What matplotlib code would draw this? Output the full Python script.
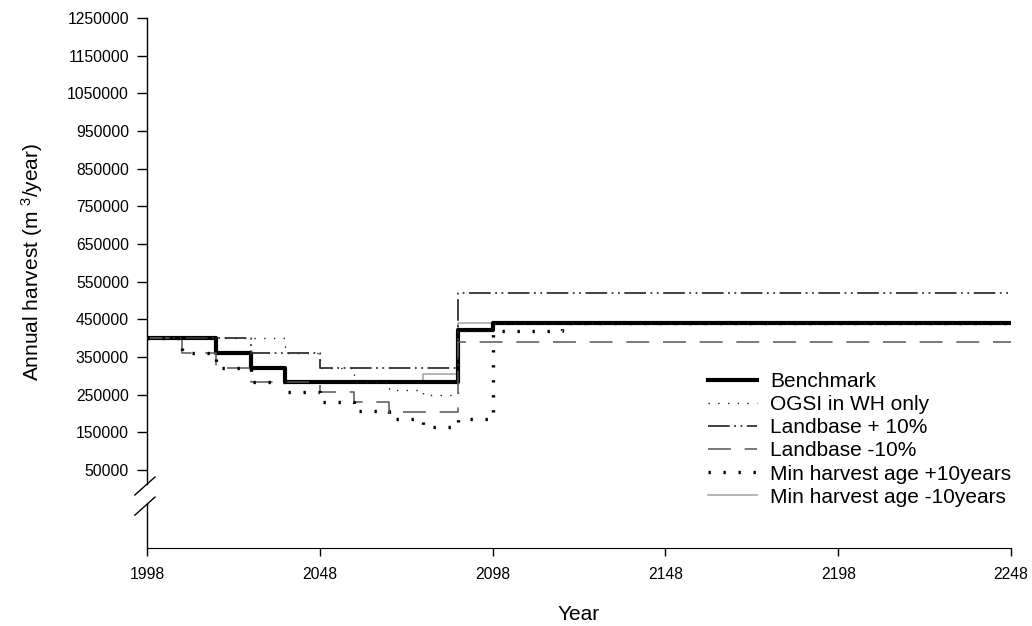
import matplotlib
matplotlib.use('Agg')
import matplotlib.pyplot as plt
from matplotlib.ticker import FormatStrFormatter

plt.rcParams['font.family'] = ['Liberation Sans', 'DejaVu Sans']
plt.rcParams['mathtext.default'] = 'regular'

# period edges (years) and annual harvest levels (m3/year) for each scenario
bench_years = [1998, 2018, 2028, 2038, 2088, 2098, 2248]
bench_vals = [400000, 360000, 320000, 285000, 422000, 440000]

ogsi_years = [1998, 2038, 2048, 2058, 2068, 2078, 2088, 2098, 2248]
ogsi_vals = [400000, 360000, 320000, 285000, 262000, 250000, 418000, 440000]

lb_plus_years = [1998, 2028, 2048, 2088, 2248]
lb_plus_vals = [400000, 360000, 320000, 520000]

lb_minus_years = [1998, 2008, 2018, 2028, 2048, 2058, 2068, 2088, 2248]
lb_minus_vals = [400000, 360000, 320000, 285000, 258000, 230000, 205000, 390000]

age_plus_years = [1998, 2008, 2018, 2028, 2038, 2048, 2058, 2068, 2078, 2088, 2098, 2118, 2248]
age_plus_vals = [400000, 360000, 320000, 285000, 257000, 230000, 207000, 185000,
                 164000, 185000, 420000, 440000]

age_minus_years = [1998, 2018, 2028, 2038, 2078, 2088, 2248]
age_minus_vals = [400000, 360000, 320000, 285000, 305000, 440000]

x_ticks = [1998, 2048, 2098, 2148, 2198, 2248]
y_ticks = list(range(50000, 1250001, 100000))


def step_line(ax, years, vals, **kw):
    # hold the last level until the end of the horizon
    return ax.plot(years, vals + [vals[-1]], drawstyle='steps-post', **kw)


fig = plt.figure(figsize=(10.32, 6.26), dpi=100)
ax = fig.add_axes([0.1424, 0.1246, 0.8373, 0.8466])

step_line(ax, bench_years, bench_vals, color='black', lw=3.0, label='Benchmark', zorder=3)
step_line(ax, ogsi_years, ogsi_vals, color='#222222', lw=1.0,
          linestyle=(0, (1, 6)), label='OGSI in WH only', zorder=4)
step_line(ax, lb_plus_years, lb_plus_vals, color='#333333', lw=1.3,
          linestyle=(0, (12, 2.5, 1, 2.5, 1, 2.5)), label='Landbase + 10%', zorder=4)
step_line(ax, lb_minus_years, lb_minus_vals, color='#555555', lw=1.1,
          linestyle=(0, (15, 9)), label='Landbase -10%', zorder=4)
step_line(ax, age_plus_years, age_plus_vals, color='black', lw=2.4,
          linestyle=(0, (0.7, 3.8)), label='Min harvest age +10years', zorder=5)
step_line(ax, age_minus_years, age_minus_vals, color='#a8a8a8', lw=1.2,
          label='Min harvest age -10years', zorder=2)

ax.set_xlim(1998, 2248)
ax.set_ylim(-157000, 1250000)
ax.set_xticks(x_ticks)
ax.set_yticks(y_ticks)
ax.yaxis.set_major_formatter(FormatStrFormatter('%d'))
ax.tick_params(axis='both', labelsize=11.3, direction='out', width=1)
ax.tick_params(axis='y', length=7, pad=6)
ax.tick_params(axis='x', length=6, pad=8)

ax.spines['top'].set_visible(False)
ax.spines['right'].set_visible(False)
ax.spines['left'].set_visible(False)

# broken y axis: spine in two pieces with a pair of slashes
ax.plot([0, 0], [0, 0.083], transform=ax.transAxes, color='black', lw=1, clip_on=False)
ax.plot([0, 0], [0.121, 1], transform=ax.transAxes, color='black', lw=1, clip_on=False)
ax.plot([-0.014, 0.0093], [0.100, 0.134], transform=ax.transAxes, color='black', lw=1, clip_on=False)
ax.plot([-0.014, 0.0093], [0.062, 0.096], transform=ax.transAxes, color='black', lw=1, clip_on=False)

ax.set_xlabel('Year', fontsize=15, labelpad=16)
ax.set_ylabel('Annual harvest (m $^{3}$/year)', fontsize=15)
ax.yaxis.set_label_coords(-0.118, 0.54)

ax.legend(loc='upper left', bbox_to_anchor=(0.686, 0.406), bbox_transform=fig.transFigure,
          frameon=False, fontsize=15, handlelength=2.35, handletextpad=0.65,
          labelspacing=0.2, borderpad=0, borderaxespad=0)

fig.savefig('out.png', dpi=100)
